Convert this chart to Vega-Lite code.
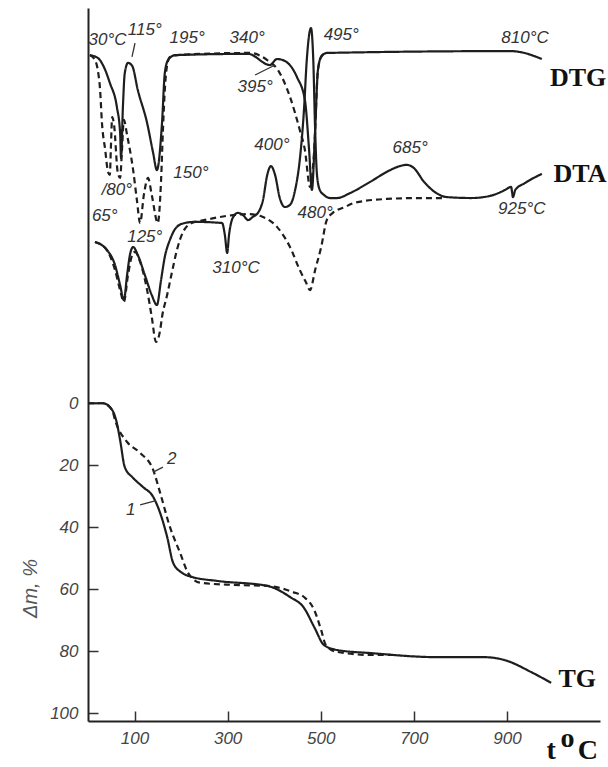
{
  "$schema": "https://vega.github.io/schema/vega-lite/v6.json",
  "width": 512,
  "height": 713,
  "autosize": "none",
  "padding": {"left": 88, "top": 8, "right": 8, "bottom": 46},
  "background": "white",
  "config": {"view": {"stroke": null}},
  "datasets": {
    "curves": [
      {"s":"DTG1","run":1,"i":1,"t":4,"v":-112.3},{"s":"DTG1","run":1,"i":2,"t":21,"v":-111.4},{"s":"DTG1","run":1,"i":3,"t":37,"v":-107.5},{"s":"DTG1","run":1,"i":4,"t":47,"v":-103.3},{"s":"DTG1","run":1,"i":5,"t":62,"v":-95.6},{"s":"DTG1","run":1,"i":6,"t":69,"v":-87.2},{"s":"DTG1","run":1,"i":7,"t":71,"v":-79.1},{"s":"DTG1","run":1,"i":8,"t":75,"v":-95.6},{"s":"DTG1","run":1,"i":9,"t":79,"v":-106.5},{"s":"DTG1","run":1,"i":10,"t":86,"v":-109.8},{"s":"DTG1","run":1,"i":11,"t":95,"v":-108.8},{"s":"DTG1","run":1,"i":12,"t":107,"v":-101.05},{"s":"DTG1","run":1,"i":13,"t":127,"v":-90.4},{"s":"DTG1","run":1,"i":14,"t":140,"v":-80.7},{"s":"DTG1","run":1,"i":15,"t":148,"v":-75.2},{"s":"DTG1","run":1,"i":16,"t":159,"v":-90.4},{"s":"DTG1","run":1,"i":17,"t":165,"v":-106.5},{"s":"DTG1","run":1,"i":18,"t":172,"v":-110.7},{"s":"DTG1","run":1,"i":19,"t":187,"v":-112.3},{"s":"DTG1","run":1,"i":20,"t":344,"v":-112.7},{"s":"DTG1","run":1,"i":21,"t":391,"v":-109.1},{"s":"DTG1","run":1,"i":22,"t":406,"v":-111.05},{"s":"DTG1","run":1,"i":23,"t":423,"v":-110.4},{"s":"DTG1","run":1,"i":24,"t":449,"v":-105.2},{"s":"DTG1","run":1,"i":25,"t":466,"v":-97.8},{"s":"DTG1","run":1,"i":26,"t":475,"v":-81.7},{"s":"DTG1","run":1,"i":27,"t":481,"v":-68.8},{"s":"DTG1","run":1,"i":28,"t":488,"v":-88.15},{"s":"DTG1","run":1,"i":29,"t":494,"v":-107.5},{"s":"DTG1","run":1,"i":30,"t":501,"v":-111.7},{"s":"DTG1","run":1,"i":31,"t":513,"v":-113.0},{"s":"DTG1","run":1,"i":32,"t":909,"v":-113.6},{"s":"DTG1","run":1,"i":33,"t":928,"v":-113.3},{"s":"DTG1","run":1,"i":34,"t":975,"v":-111.05},
      {"s":"DTG2","run":2,"i":1,"t":4,"v":-112.3},{"s":"DTG2","run":2,"i":2,"t":15,"v":-110.7},{"s":"DTG2","run":2,"i":3,"t":21,"v":-107.5},{"s":"DTG2","run":2,"i":4,"t":26,"v":-101.05},{"s":"DTG2","run":2,"i":5,"t":30,"v":-90.4},{"s":"DTG2","run":2,"i":6,"t":37,"v":-81.7},{"s":"DTG2","run":2,"i":7,"t":43,"v":-74.6},{"s":"DTG2","run":2,"i":8,"t":47,"v":-73.7},{"s":"DTG2","run":2,"i":9,"t":49,"v":-81.7},{"s":"DTG2","run":2,"i":10,"t":52,"v":-92.3},{"s":"DTG2","run":2,"i":11,"t":56,"v":-89.8},{"s":"DTG2","run":2,"i":12,"t":64,"v":-74.3},{"s":"DTG2","run":2,"i":13,"t":69,"v":-72.7},{"s":"DTG2","run":2,"i":14,"t":73,"v":-81.7},{"s":"DTG2","run":2,"i":15,"t":77,"v":-91.4},{"s":"DTG2","run":2,"i":16,"t":84,"v":-86.5},{"s":"DTG2","run":2,"i":17,"t":97,"v":-75.2},{"s":"DTG2","run":2,"i":18,"t":105,"v":-65.6},{"s":"DTG2","run":2,"i":19,"t":112,"v":-58.15},{"s":"DTG2","run":2,"i":20,"t":120,"v":-67.2},{"s":"DTG2","run":2,"i":21,"t":129,"v":-72.7},{"s":"DTG2","run":2,"i":22,"t":137,"v":-67.2},{"s":"DTG2","run":2,"i":23,"t":150,"v":-58.15},{"s":"DTG2","run":2,"i":24,"t":157,"v":-72.0},{"s":"DTG2","run":2,"i":25,"t":161,"v":-88.15},{"s":"DTG2","run":2,"i":26,"t":165,"v":-101.05},{"s":"DTG2","run":2,"i":27,"t":170,"v":-109.1},{"s":"DTG2","run":2,"i":28,"t":176,"v":-111.7},{"s":"DTG2","run":2,"i":29,"t":191,"v":-112.3},{"s":"DTG2","run":2,"i":30,"t":348,"v":-113.0},{"s":"DTG2","run":2,"i":31,"t":385,"v":-110.7},{"s":"DTG2","run":2,"i":32,"t":408,"v":-107.5},{"s":"DTG2","run":2,"i":33,"t":434,"v":-98.8},{"s":"DTG2","run":2,"i":34,"t":455,"v":-88.15},{"s":"DTG2","run":2,"i":35,"t":466,"v":-81.7},{"s":"DTG2","run":2,"i":36,"t":477,"v":-69.8},{"s":"DTG2","run":2,"i":37,"t":486,"v":-81.7},{"s":"DTG2","run":2,"i":38,"t":494,"v":-107.5},{"s":"DTG2","run":2,"i":39,"t":503,"v":-112.3},{"s":"DTG2","run":2,"i":40,"t":513,"v":-113.0},
      {"s":"DTA1","run":1,"i":1,"t":15,"v":-52.0},{"s":"DTA1","run":1,"i":2,"t":41,"v":-49.4},{"s":"DTA1","run":1,"i":3,"t":58,"v":-44.6},{"s":"DTA1","run":1,"i":4,"t":69,"v":-38.1},{"s":"DTA1","run":1,"i":5,"t":77,"v":-33.3},{"s":"DTA1","run":1,"i":6,"t":84,"v":-41.4},{"s":"DTA1","run":1,"i":7,"t":90,"v":-47.8},{"s":"DTA1","run":1,"i":8,"t":97,"v":-50.4},{"s":"DTA1","run":1,"i":9,"t":107,"v":-47.8},{"s":"DTA1","run":1,"i":10,"t":122,"v":-41.4},{"s":"DTA1","run":1,"i":11,"t":137,"v":-34.9},{"s":"DTA1","run":1,"i":12,"t":148,"v":-31.7},{"s":"DTA1","run":1,"i":13,"t":157,"v":-39.8},{"s":"DTA1","run":1,"i":14,"t":165,"v":-47.2},{"s":"DTA1","run":1,"i":15,"t":176,"v":-52.7},{"s":"DTA1","run":1,"i":16,"t":191,"v":-56.9},{"s":"DTA1","run":1,"i":17,"t":208,"v":-58.15},{"s":"DTA1","run":1,"i":18,"t":230,"v":-58.5},{"s":"DTA1","run":1,"i":19,"t":288,"v":-58.15},{"s":"DTA1","run":1,"i":20,"t":294,"v":-54.3},{"s":"DTA1","run":1,"i":21,"t":299,"v":-48.5},{"s":"DTA1","run":1,"i":22,"t":303,"v":-54.3},{"s":"DTA1","run":1,"i":23,"t":312,"v":-60.1},{"s":"DTA1","run":1,"i":24,"t":322,"v":-61.4},{"s":"DTA1","run":1,"i":25,"t":333,"v":-60.7},{"s":"DTA1","run":1,"i":26,"t":344,"v":-59.1},{"s":"DTA1","run":1,"i":27,"t":354,"v":-60.1},{"s":"DTA1","run":1,"i":28,"t":365,"v":-61.4},{"s":"DTA1","run":1,"i":29,"t":376,"v":-65.6},{"s":"DTA1","run":1,"i":30,"t":385,"v":-73.6},{"s":"DTA1","run":1,"i":31,"t":393,"v":-76.5},{"s":"DTA1","run":1,"i":32,"t":402,"v":-73.6},{"s":"DTA1","run":1,"i":33,"t":412,"v":-66.2},{"s":"DTA1","run":1,"i":34,"t":423,"v":-63.3},{"s":"DTA1","run":1,"i":35,"t":434,"v":-64.0},{"s":"DTA1","run":1,"i":36,"t":445,"v":-68.8},{"s":"DTA1","run":1,"i":37,"t":455,"v":-78.5},{"s":"DTA1","run":1,"i":38,"t":464,"v":-94.6},{"s":"DTA1","run":1,"i":39,"t":470,"v":-110.7},{"s":"DTA1","run":1,"i":40,"t":477,"v":-120.4},{"s":"DTA1","run":1,"i":41,"t":479,"v":-121.05},{"s":"DTA1","run":1,"i":42,"t":484,"v":-110.7},{"s":"DTA1","run":1,"i":43,"t":488,"v":-88.15},{"s":"DTA1","run":1,"i":44,"t":492,"v":-73.6},{"s":"DTA1","run":1,"i":45,"t":498,"v":-68.8},{"s":"DTA1","run":1,"i":46,"t":507,"v":-67.2},{"s":"DTA1","run":1,"i":47,"t":520,"v":-66.2},{"s":"DTA1","run":1,"i":48,"t":535,"v":-66.2},{"s":"DTA1","run":1,"i":49,"t":563,"v":-67.8},{"s":"DTA1","run":1,"i":50,"t":606,"v":-71.4},{"s":"DTA1","run":1,"i":51,"t":649,"v":-75.2},{"s":"DTA1","run":1,"i":52,"t":670,"v":-76.5},{"s":"DTA1","run":1,"i":53,"t":685,"v":-76.9},{"s":"DTA1","run":1,"i":54,"t":700,"v":-75.9},{"s":"DTA1","run":1,"i":55,"t":722,"v":-71.4},{"s":"DTA1","run":1,"i":56,"t":745,"v":-68.15},{"s":"DTA1","run":1,"i":57,"t":771,"v":-66.5},{"s":"DTA1","run":1,"i":58,"t":823,"v":-66.2},{"s":"DTA1","run":1,"i":59,"t":864,"v":-66.9},{"s":"DTA1","run":1,"i":60,"t":896,"v":-68.8},{"s":"DTA1","run":1,"i":61,"t":909,"v":-69.8},{"s":"DTA1","run":1,"i":62,"t":913,"v":-66.5},{"s":"DTA1","run":1,"i":63,"t":918,"v":-68.8},{"s":"DTA1","run":1,"i":64,"t":939,"v":-71.05},{"s":"DTA1","run":1,"i":65,"t":975,"v":-74.0},
      {"s":"DTA2","run":2,"i":1,"t":15,"v":-52.0},{"s":"DTA2","run":2,"i":2,"t":37,"v":-50.1},{"s":"DTA2","run":2,"i":3,"t":58,"v":-43.0},{"s":"DTA2","run":2,"i":4,"t":69,"v":-36.5},{"s":"DTA2","run":2,"i":5,"t":77,"v":-32.7},{"s":"DTA2","run":2,"i":6,"t":86,"v":-41.4},{"s":"DTA2","run":2,"i":7,"t":95,"v":-47.8},{"s":"DTA2","run":2,"i":8,"t":101,"v":-48.8},{"s":"DTA2","run":2,"i":9,"t":112,"v":-45.6},{"s":"DTA2","run":2,"i":10,"t":127,"v":-36.5},{"s":"DTA2","run":2,"i":11,"t":137,"v":-27.8},{"s":"DTA2","run":2,"i":12,"t":146,"v":-19.8},{"s":"DTA2","run":2,"i":13,"t":155,"v":-23.6},{"s":"DTA2","run":2,"i":14,"t":159,"v":-27.8},{"s":"DTA2","run":2,"i":15,"t":170,"v":-34.9},{"s":"DTA2","run":2,"i":16,"t":180,"v":-42.0},{"s":"DTA2","run":2,"i":17,"t":191,"v":-49.4},{"s":"DTA2","run":2,"i":18,"t":204,"v":-55.2},{"s":"DTA2","run":2,"i":19,"t":223,"v":-58.15},{"s":"DTA2","run":2,"i":20,"t":241,"v":-58.8},{"s":"DTA2","run":2,"i":21,"t":348,"v":-61.0},{"s":"DTA2","run":2,"i":22,"t":376,"v":-60.1},{"s":"DTA2","run":2,"i":23,"t":406,"v":-56.9},{"s":"DTA2","run":2,"i":24,"t":434,"v":-50.4},{"s":"DTA2","run":2,"i":25,"t":455,"v":-43.0},{"s":"DTA2","run":2,"i":26,"t":468,"v":-39.1},{"s":"DTA2","run":2,"i":27,"t":477,"v":-36.5},{"s":"DTA2","run":2,"i":28,"t":488,"v":-43.0},{"s":"DTA2","run":2,"i":29,"t":501,"v":-50.4},{"s":"DTA2","run":2,"i":30,"t":513,"v":-59.1},{"s":"DTA2","run":2,"i":31,"t":526,"v":-61.4},{"s":"DTA2","run":2,"i":32,"t":552,"v":-63.3},{"s":"DTA2","run":2,"i":33,"t":571,"v":-64.6},{"s":"DTA2","run":2,"i":34,"t":642,"v":-65.9},{"s":"DTA2","run":2,"i":35,"t":713,"v":-66.2},{"s":"DTA2","run":2,"i":36,"t":765,"v":-66.2},
      {"s":"TG1","run":1,"i":1,"t":0,"v":0},{"s":"TG1","run":1,"i":2,"t":32,"v":0},{"s":"TG1","run":1,"i":3,"t":52,"v":2.2},{"s":"TG1","run":1,"i":4,"t":62,"v":6.4},{"s":"TG1","run":1,"i":5,"t":69,"v":11.9},{"s":"TG1","run":1,"i":6,"t":79,"v":20.6},{"s":"TG1","run":1,"i":7,"t":97,"v":24.1},{"s":"TG1","run":1,"i":8,"t":118,"v":27.0},{"s":"TG1","run":1,"i":9,"t":140,"v":30.2},{"s":"TG1","run":1,"i":10,"t":155,"v":35.4},{"s":"TG1","run":1,"i":11,"t":170,"v":43.1},{"s":"TG1","run":1,"i":12,"t":183,"v":51.5},{"s":"TG1","run":1,"i":13,"t":202,"v":54.7},{"s":"TG1","run":1,"i":14,"t":223,"v":56.0},{"s":"TG1","run":1,"i":15,"t":277,"v":57.3},{"s":"TG1","run":1,"i":16,"t":385,"v":58.9},{"s":"TG1","run":1,"i":17,"t":434,"v":62.5},{"s":"TG1","run":1,"i":18,"t":464,"v":66.0},{"s":"TG1","run":1,"i":19,"t":486,"v":72.2},{"s":"TG1","run":1,"i":20,"t":507,"v":78.0},{"s":"TG1","run":1,"i":21,"t":535,"v":79.6},{"s":"TG1","run":1,"i":22,"t":608,"v":80.6},{"s":"TG1","run":1,"i":23,"t":750,"v":81.9},{"s":"TG1","run":1,"i":24,"t":851,"v":81.9},{"s":"TG1","run":1,"i":25,"t":894,"v":82.8},{"s":"TG1","run":1,"i":26,"t":952,"v":86.7},{"s":"TG1","run":1,"i":27,"t":995,"v":90.2},
      {"s":"TG2","run":2,"i":1,"t":0,"v":0},{"s":"TG2","run":2,"i":2,"t":32,"v":0},{"s":"TG2","run":2,"i":3,"t":52,"v":2.2},{"s":"TG2","run":2,"i":4,"t":58,"v":5.4},{"s":"TG2","run":2,"i":5,"t":84,"v":12.5},{"s":"TG2","run":2,"i":6,"t":112,"v":16.0},{"s":"TG2","run":2,"i":7,"t":140,"v":21.5},{"s":"TG2","run":2,"i":8,"t":155,"v":28.9},{"s":"TG2","run":2,"i":9,"t":176,"v":39.9},{"s":"TG2","run":2,"i":10,"t":198,"v":48.3},{"s":"TG2","run":2,"i":11,"t":215,"v":54.7},{"s":"TG2","run":2,"i":12,"t":241,"v":57.9},{"s":"TG2","run":2,"i":13,"t":312,"v":58.6},{"s":"TG2","run":2,"i":14,"t":385,"v":58.9},{"s":"TG2","run":2,"i":15,"t":440,"v":60.9},{"s":"TG2","run":2,"i":16,"t":464,"v":62.5},{"s":"TG2","run":2,"i":17,"t":486,"v":66.7},{"s":"TG2","run":2,"i":18,"t":501,"v":73.2},{"s":"TG2","run":2,"i":19,"t":511,"v":78.0},{"s":"TG2","run":2,"i":20,"t":535,"v":80.2},{"s":"TG2","run":2,"i":21,"t":608,"v":81.2},{"s":"TG2","run":2,"i":22,"t":651,"v":81.2}
    ],
    "pointers": [
      {"t":101,"v":-116.2,"t2":94.5,"v2":-111.7},
      {"t":359,"v":-105.9,"t2":402,"v2":-109.1},
      {"t":112,"v":32.8,"t2":144,"v2":31.5},
      {"t":140,"v":22.2,"t2":161,"v2":20.6}
    ],
    "notes": [
      {"label":"30°C","t":42,"v":-117.2},
      {"label":"115°","t":122,"v":-120.4},
      {"label":"195°","t":213,"v":-117.8},
      {"label":"340°","t":342,"v":-117.8},
      {"label":"395°","t":359,"v":-102.0},
      {"label":"495°","t":544,"v":-118.8},
      {"label":"810°C","t":939,"v":-117.8},
      {"label":"150°","t":221,"v":-74.3},
      {"label":"/80°","t":62,"v":-68.8},
      {"label":"65°","t":36,"v":-60.4},
      {"label":"125°","t":122,"v":-53.6},
      {"label":"310°C","t":318,"v":-43.6},
      {"label":"400°","t":395,"v":-83.3},
      {"label":"480°","t":488,"v":-61.4},
      {"label":"685°","t":692,"v":-82.3},
      {"label":"925°C","t":932,"v":-62.7},
      {"label":"1","t":92,"v":34.4},
      {"label":"2","t":180,"v":18.0}
    ],
    "names": [
      {"label":"DTG","t":1053,"v":-104.9},
      {"label":"DTA","t":1057,"v":-74.0},
      {"label":"TG","t":1051,"v":89.0}
    ],
    "unit": [
      {"label":"t","t":995,"v":114.6},
      {"label":"o","t":1030,"v":111.0},
      {"label":"C","t":1074,"v":114.6}
    ]
  },
  "encoding": {
    "x": {
      "field": "t", "type": "quantitative",
      "scale": {"domain": [0, 1100], "nice": false, "zero": false},
      "axis": {
        "values": [100, 300, 500, 700, 900], "title": null, "grid": false,
        "domainColor": "#222", "domainWidth": 2,
        "tickColor": "#333", "tickWidth": 1.5, "tickSize": -10,
        "labelPadding": 19, "labelFont": "Liberation Sans", "labelFontStyle": "italic",
        "labelFontSize": 17, "labelColor": "#444"
      }
    },
    "y": {
      "field": "v", "type": "quantitative",
      "scale": {"domain": [-127.5, 102.5], "reverse": true, "nice": false, "zero": false},
      "axis": {
        "values": [0, 20, 40, 60, 80, 100], "grid": false,
        "title": "Δm, %", "titleFont": "Liberation Sans", "titleFontStyle": "italic",
        "titleFontWeight": "normal", "titleFontSize": 20, "titleColor": "#555",
        "titleX": -58, "titleY": 580, "titleAngle": -90, "titleAlign": "center", "titleBaseline": "middle",
        "domainColor": "#222", "domainWidth": 2,
        "tickColor": "#333", "tickWidth": 1.5, "tickSize": -10,
        "labelPadding": 20, "labelFont": "Liberation Sans", "labelFontStyle": "italic",
        "labelFontSize": 17, "labelColor": "#444"
      }
    }
  },
  "layer": [
    {
      "data": {"name": "curves"},
      "mark": {"type": "line", "color": "#1e1e1e", "strokeWidth": 2.2, "interpolate": "monotone"},
      "encoding": {
        "detail": {"field": "s", "type": "nominal"},
        "order": {"field": "i", "type": "quantitative"},
        "strokeDash": {"field": "run", "type": "nominal", "scale": {"domain": [1, 2], "range": [[1, 0], [6, 4]]}, "legend": null}
      }
    },
    {
      "data": {"name": "pointers"},
      "mark": {"type": "rule", "color": "#333", "strokeWidth": 1.3},
      "encoding": {
        "x2": {"field": "t2"},
        "y2": {"field": "v2"}
      }
    },
    {
      "data": {"name": "notes"},
      "mark": {"type": "text", "font": "Liberation Sans", "fontStyle": "italic", "fontSize": 17, "color": "#333", "align": "center", "baseline": "middle"},
      "encoding": {"text": {"field": "label"}}
    },
    {
      "data": {"name": "names"},
      "mark": {"type": "text", "font": "Liberation Serif", "fontWeight": "bold", "fontSize": 26, "color": "#111", "align": "center", "baseline": "middle"},
      "encoding": {"text": {"field": "label"}}
    },
    {
      "data": {"name": "unit"},
      "mark": {"type": "text", "font": "Liberation Serif", "fontWeight": "bold", "fontSize": 28, "color": "#111", "align": "center", "baseline": "alphabetic"},
      "encoding": {"text": {"field": "label"}}
    }
  ]
}
